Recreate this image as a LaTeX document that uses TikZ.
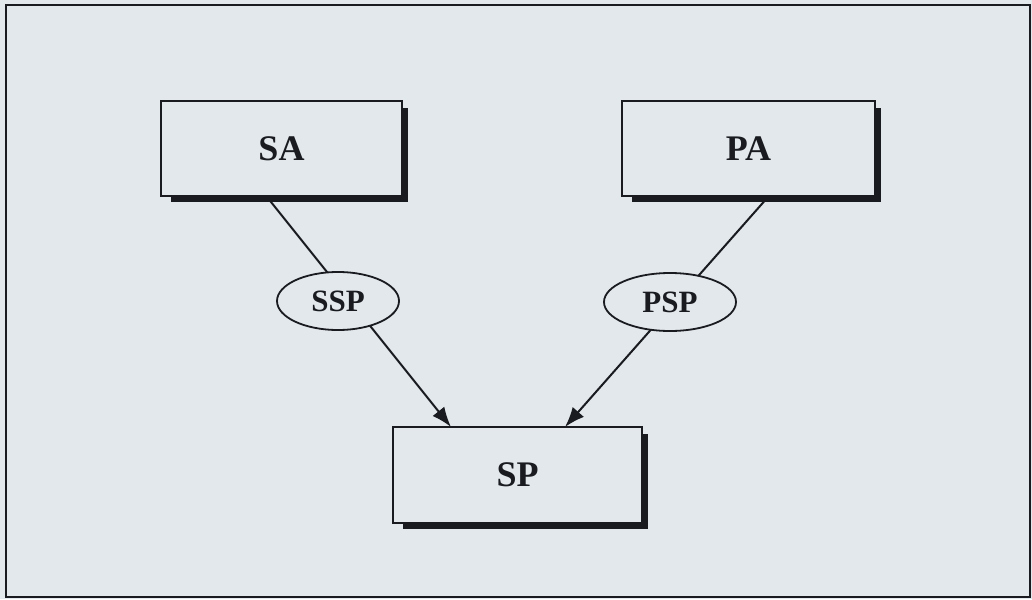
\documentclass[tikz,border=0pt]{standalone}
\usepackage{fontspec}
\setmainfont{Liberation Serif}
\usetikzlibrary{arrows.meta,shapes.geometric}
\definecolor{bgc}{RGB}{226,232,236}
\definecolor{ink}{RGB}{25,27,32}
\tikzset{
  x=1pt, y=-1pt,
  box/.style={draw=ink, line width=1.8pt, fill=bgc, inner sep=0pt,
    minimum height=95pt, font=\fontsize{36}{40}\selectfont\bfseries, text=ink},
  oval/.style={ellipse, draw=ink, line width=1.8pt, fill=bgc, inner sep=0pt,
    minimum height=58pt, font=\fontsize{31}{34}\selectfont\bfseries, text=ink},
  link/.style={draw=ink, line width=2pt},
  tip/.style={-{Latex[length=20pt,width=15pt]}},
  shade/.style={fill=ink}
}
\begin{document}
\begin{tikzpicture}
\useasboundingbox (0,0) rectangle (1032,599);
\fill[bgc] (0,0) rectangle (1032,599);
\draw[ink, line width=2.6pt] (6,5) rectangle (1030,597);
% shadows
\fill[shade] (171,108) rectangle (408,202);
\fill[shade] (632,108) rectangle (881,202);
\fill[shade] (403,434) rectangle (648,529);
% boxes
\node[box, minimum width=241pt] (SA) at (281.5,148.5) {SA};
\node[box, minimum width=253pt] (PA) at (748.5,148.5) {PA};
\node[box, minimum width=249pt, minimum height=96pt] (SP) at (517.5,475) {SP};
% connector ends
\coordinate (sa1) at (267,197);
\coordinate (pa1) at (768,197);
\coordinate (sp1) at (451,427);
\coordinate (sp2) at (565,427);
\draw[link, tip] (sa1) -- (sp1);
\draw[link, tip] (pa1) -- (sp2);
% ovals
\node[oval, minimum width=122pt] (SSP) at (338,301) {SSP};
\node[oval, minimum width=132pt] (PSP) at (670,302) {PSP};
\end{tikzpicture}
\end{document}
